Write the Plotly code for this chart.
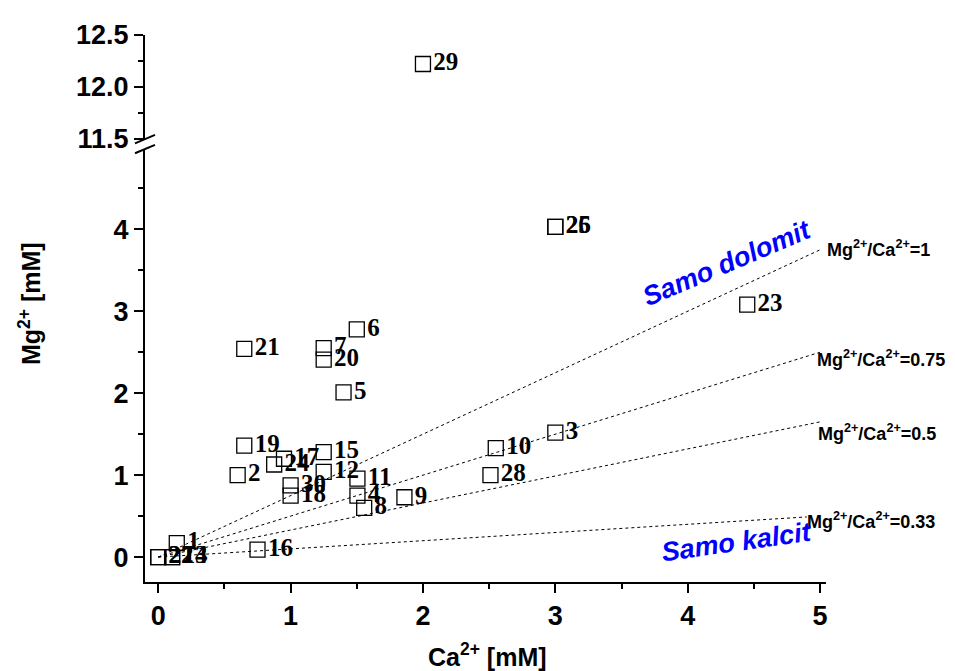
import plotly.graph_objects as go

# ---- data ----
labels = ["1", "2", "3", "4", "5", "6", "7", "8", "9", "10",
          "11", "12", "13", "14", "15", "16", "17", "18", "19", "20",
          "21", "22", "23", "24", "25", "26", "27", "28", "30"]
ca = [0.14, 0.60, 3.00, 1.505, 1.40, 1.50, 1.25, 1.556, 1.86, 2.55,
      1.505, 1.25, 0.105, 0.105, 1.25, 0.75, 0.95, 1.00, 0.65, 1.25,
      0.65, 0.00, 4.45, 0.876, 3.00, 3.00, 0.00, 2.51, 1.00]
mg = [0.17, 1.00, 1.52, 0.75, 2.01, 2.78, 2.55, 0.60, 0.73, 1.33,
      0.957, 1.04, 0.00, 0.00, 1.28, 0.09, 1.20, 0.75, 1.36, 2.41,
      2.54, 0.00, 3.08, 1.13, 4.03, 4.03, 0.00, 1.00, 0.875]

# point above the axis break
high_labels = ["29"]
high_ca = [2.00]
high_mg = [12.22]

# ratio guide lines (dotted), start at origin
ratio_names = ["Mg<sup>2+</sup>/Ca<sup>2+</sup>=1",
               "Mg<sup>2+</sup>/Ca<sup>2+</sup>=0.75",
               "Mg<sup>2+</sup>/Ca<sup>2+</sup>=0.5",
               "Mg<sup>2+</sup>/Ca<sup>2+</sup>=0.33"]
ratio_end_x = [5.0, 5.0, 5.0, 4.9]
ratio_end_y = [3.75, 2.50, 1.65, 0.49]
ratio_label_x = [5.04, 4.965, 4.97, 4.89]
ratio_label_y = [3.76, 2.42, 1.52, 0.45]

x_ticks = [0, 1, 2, 3, 4, 5]
y_low_ticks = [0, 1, 2, 3, 4]
y_high_ticks = [11.5, 12.0, 12.5]

X_RANGE = [-0.1, 5.045]

# ---- figure ----
SANS = "Liberation Sans, Arial, sans-serif"
SERIF = "Liberation Serif, Times New Roman, serif"

fig = go.Figure()

for ex, ey in zip(ratio_end_x, ratio_end_y):
    fig.add_trace(go.Scatter(
        x=[0, ex], y=[0, ey], mode="lines",
        line=dict(color="black", width=1, dash="dot"),
        xaxis="x", yaxis="y", hoverinfo="skip", showlegend=False))

marker = dict(symbol="square-open", size=15, color="black",
              line=dict(color="black", width=1.3))
textfont = dict(family=SERIF, size=25, color="black", weight="bold")

fig.add_trace(go.Scatter(
    x=ca, y=mg, mode="markers+text", text=labels,
    textposition="middle right", marker=marker, textfont=textfont,
    xaxis="x", yaxis="y", cliponaxis=False, showlegend=False))

fig.add_trace(go.Scatter(
    x=high_ca, y=high_mg, mode="markers+text", text=high_labels,
    textposition="middle right", marker=marker, textfont=textfont,
    xaxis="x", yaxis="y2", cliponaxis=False, showlegend=False))

tickfont = dict(family=SANS, size=27, color="black", weight="bold")
axis_common = dict(showline=True, linecolor="black", linewidth=2,
                   ticks="outside", ticklen=9, tickwidth=2, tickcolor="black",
                   showgrid=False, zeroline=False, tickfont=tickfont)

# the page body has an 8px margin, so the figure is shrunk by 8px
fig.update_layout(
    width=947, height=663,
    margin=dict(l=137, r=129, t=25, b=89),
    paper_bgcolor="white", plot_bgcolor="white",
    xaxis=dict(range=X_RANGE, tickvals=x_ticks,
               minor=dict(ticks="outside", ticklen=5, tickwidth=2,
                          tickcolor="black", dtick=0.5),
               anchor="y", **axis_common),
    yaxis=dict(range=[-0.304, 4.985], domain=[0, 0.7923],
               tickvals=y_low_ticks,
               minor=dict(ticks="outside", ticklen=5, tickwidth=2,
                          tickcolor="black", dtick=0.5),
               anchor="x", **axis_common),
    yaxis2=dict(range=[11.5, 12.5], domain=[0.8106, 1],
                tickvals=y_high_ticks, tickformat=".1f",
                minor=dict(ticks="outside", ticklen=5, tickwidth=2,
                           tickcolor="black", dtick=0.25),
                anchor="x", **axis_common),
)


def x_to_paper(xv):
    return (xv - X_RANGE[0]) / (X_RANGE[1] - X_RANGE[0])


annotations = []
for name, lx, ly in zip(ratio_names, ratio_label_x, ratio_label_y):
    annotations.append(dict(
        x=x_to_paper(lx), y=ly, xref="paper", yref="y", text=name,
        showarrow=False, xanchor="left", yanchor="middle",
        font=dict(family=SANS, size=18, color="black", weight="bold")))

annotations.append(dict(
    x=4.30, y=3.59, xref="x", yref="y", text="<i>Samo dolomit</i>",
    showarrow=False, textangle=-23, xanchor="center", yanchor="middle",
    font=dict(family=SANS, size=27, color="#0000ff", weight="bold")))
annotations.append(dict(
    x=4.37, y=0.18, xref="x", yref="y", text="<i>Samo kalcit</i>",
    showarrow=False, textangle=-8, xanchor="center", yanchor="middle",
    font=dict(family=SANS, size=27, color="#0000ff", weight="bold")))


# axis titles (positions given in window pixels, plot area spans 145..826 x 33..582)
def px(xp):
    return (xp - 145) / 681


def py(yp):
    return (582 - yp) / 549


annotations.append(dict(
    x=px(30), y=py(303), xref="paper", yref="paper",
    text="Mg<sup>2+</sup> [mM]", showarrow=False, textangle=-90,
    xanchor="center", yanchor="middle",
    font=dict(family=SANS, size=25, color="black", weight="bold")))
annotations.append(dict(
    x=px(487), y=py(655), xref="paper", yref="paper",
    text="Ca<sup>2+</sup> [mM]", showarrow=False,
    xanchor="center", yanchor="middle",
    font=dict(family=SANS, size=25, color="black", weight="bold")))
fig.update_layout(annotations=annotations)

# axis-break marks (two short slashes across the left axis)
for y0 in (141.7, 151.7):
    fig.add_shape(type="line", xref="paper", yref="paper",
                  x0=px(135), y0=py(y0), x1=px(155), y1=py(y0 - 8.4),
                  line=dict(color="black", width=2))

fig.write_html("out.html")
